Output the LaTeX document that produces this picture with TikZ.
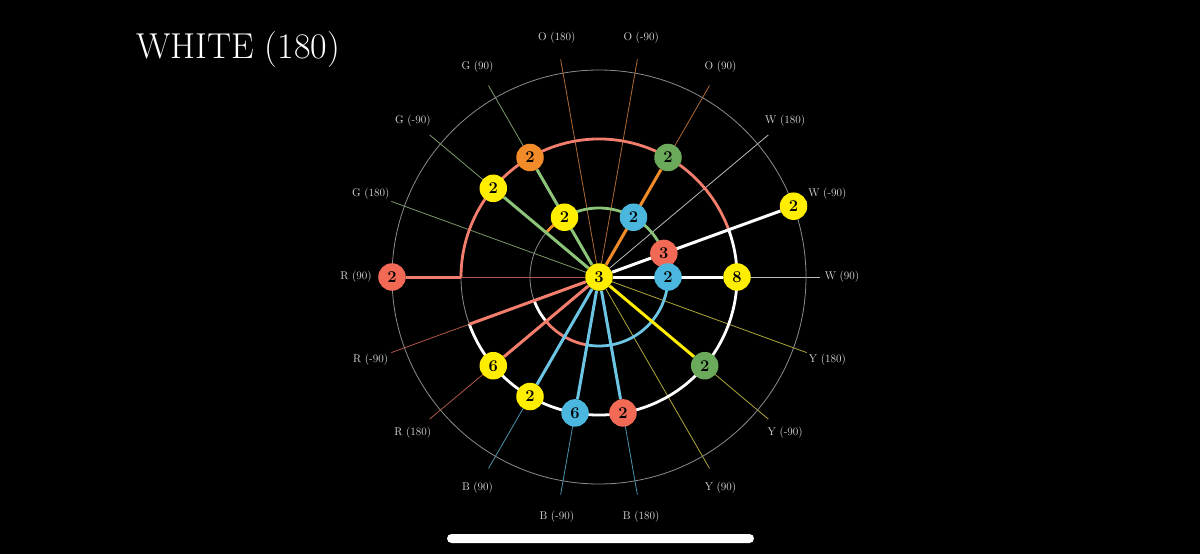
\documentclass[tikz,border=0pt]{standalone}
\usepackage{tikz}
\usetikzlibrary{positioning, calc}
\definecolor{cbyellow}{HTML}{FFEE00}
\definecolor{cbblue}{HTML}{4BB7DF}
\definecolor{cbred}{HTML}{F26A55}
\definecolor{cborange}{HTML}{F28C2A}
\definecolor{cbgreen}{HTML}{6AAA5A}
\definecolor{bandgreen}{HTML}{8CC47A}
\definecolor{bandred}{HTML}{F47E6E}
\definecolor{bandblue}{HTML}{6CC5E3}
\definecolor{spokeW}{HTML}{BBBBBB}
\definecolor{spokeO}{HTML}{B06A35}
\definecolor{spokeG}{HTML}{7A9A6A}
\definecolor{spokeR}{HTML}{B0574A}
\definecolor{spokeB}{HTML}{4A93AE}
\definecolor{spokeY}{HTML}{B0A63A}
\definecolor{ringgray}{HTML}{8C8C8C}
\definecolor{labelgray}{HTML}{E0E0E0}
\pgfdeclarelayer{background}
\pgfdeclarelayer{edges}
\pgfsetlayers{background,edges,main}

\begin{document}
\begin{tikzpicture}[
  x=1pt, y=1pt,
  sticker/.style={
    circle,
    inner sep=0pt,
    minimum size=27.5pt,
    font=\fontsize{16.5}{16.5}\selectfont\bfseries,
    text=black
  },
  facelabel/.style={
    inner sep=0pt,
    font=\fontsize{11.2}{11.2}\selectfont,
    text=labelgray
  },
  ring/.style={draw=ringgray, line width=0.8pt},
  spoke/.style={line width=0.8pt},
  band/.style={line width=2.8pt},
  move/.style={line width=3pt}
]
  \useasboundingbox (0,0) rectangle (1200,-554);
  \begin{pgfonlayer}{background}
    \fill[black] (0,0) rectangle (1200,-554);
  \end{pgfonlayer}

  % Title
  \node[anchor=west, inner sep=0pt, text=white, font=\fontsize{36}{36}\selectfont] (title) at (136,-50) {WHITE (180)};

  % Centre
  \coordinate (C) at (599,-277);
  \node[sticker, fill=cbyellow] (c3) at (C) {3};

  % Inner ring
  \node[sticker, fill=cbyellow] (i120) at ($(C)+(120:69)$) {2};
  \node[sticker, fill=cbblue] (i60) at ($(C)+(60:69)$) {2};
  \node[sticker, fill=cbred] (i20) at ($(C)+(20:69)$) {3};
  \node[sticker, fill=cbblue] (i0) at ($(C)+(0:69)$) {2};

  % Middle ring
  \node[sticker, fill=cborange] (m120) at ($(C)+(120:138)$) {2};
  \node[sticker, fill=cbgreen] (m60) at ($(C)+(60:138)$) {2};
  \node[sticker, fill=cbyellow] (m140) at ($(C)+(140:138)$) {2};
  \node[sticker, fill=cbyellow] (m0) at ($(C)+(0:138)$) {8};
  \node[sticker, fill=cbgreen] (m320) at ($(C)+(320:138)$) {2};
  \node[sticker, fill=cbred] (m280) at ($(C)+(280:138)$) {2};
  \node[sticker, fill=cbblue] (m260) at ($(C)+(260:138)$) {6};
  \node[sticker, fill=cbyellow] (m240) at ($(C)+(240:138)$) {2};
  \node[sticker, fill=cbyellow] (m220) at ($(C)+(220:138)$) {6};
  \coordinate (m180) at ($(C)+(180:138)$);
  \coordinate (m200) at ($(C)+(200:138)$);

  % Outer ring
  \node[sticker, fill=cbred] (o180) at ($(C)+(180:207)$) {2};
  \node[sticker, fill=cbyellow] (o20) at ($(C)+(20:207)$) {2};

  % Face turns
  \foreach \ang/\txt in {0/W (90), 20/W (-90), 40/W (180),
      60/O (90), 80/O (-90), 100/O (180),
      120/G (90), 140/G (-90), 160/G (180),
      180/R (90), 200/R (-90), 220/R (180),
      240/B (90), 260/B (-90), 280/B (180),
      300/Y (90), 320/Y (-90), 340/Y (180)} {
    \coordinate (e\ang) at ($(C)+(\ang:221)$);
    \node[facelabel] (l\ang) at ($(C)+(\ang:243)$) {\txt};
  }

  \begin{pgfonlayer}{edges}
    % Spokes
    \foreach \ang/\col in {0/spokeW, 20/spokeW, 40/spokeW,
        60/spokeO, 80/spokeO, 100/spokeO,
        120/spokeG, 140/spokeG, 160/spokeG,
        180/spokeR, 200/spokeR, 220/spokeR,
        240/spokeB, 260/spokeB, 280/spokeB,
        300/spokeY, 320/spokeY, 340/spokeY}
      \draw[spoke, \col] (c3) -- (e\ang);

    % Rings
    \draw[ring] (C) circle[radius=69];
    \draw[ring] (C) circle[radius=138];
    \draw[ring] (C) circle[radius=207];

    % Coloured bands
    \draw[band, bandgreen] ($(C)+(20:69)$) arc[start angle=20, end angle=120, radius=69];
    \draw[band, cborange] ($(C)+(120:69)$) arc[start angle=120, end angle=139, radius=69];
    \draw[band, white] ($(C)+(200:69)$) arc[start angle=200, end angle=221, radius=69];
    \draw[band, bandred] ($(C)+(221:69)$) arc[start angle=221, end angle=261, radius=69];
    \draw[band, bandblue] ($(C)+(261:69)$) arc[start angle=261, end angle=360, radius=69];
    \draw[band, bandred] ($(C)+(20:138)$) arc[start angle=20, end angle=180, radius=138];
    \draw[band, white] ($(C)+(200:138)$) arc[start angle=200, end angle=380, radius=138];

    % Moves
    \draw[move, bandgreen] (c3) -- (m120);
    \draw[move, bandgreen] (c3) -- (m140);
    \draw[move, cborange] (c3) -- (m60);
    \draw[move, white] (c3) -- (m0);
    \draw[move, white] (c3) -- (o20);
    \draw[move, bandred] (o180) -- (m180);
    \draw[move, bandred] (c3) -- (m200);
    \draw[move, bandred] (c3) -- (m220);
    \draw[move, bandblue] (c3) -- (m240);
    \draw[move, bandblue] (c3) -- (m260);
    \draw[move, bandblue] (c3) -- (m280);
    \draw[move, cbyellow] (c3) -- (m320);
  \end{pgfonlayer}

  % Home bar
  \fill[white, rounded corners=4.5pt] (447,-534) rectangle (754,-543);
\end{tikzpicture}
\end{document}
